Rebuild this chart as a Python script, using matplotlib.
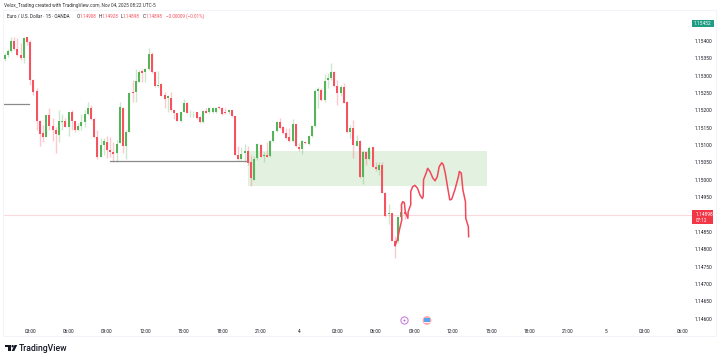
import matplotlib
matplotlib.use("Agg")
import matplotlib.pyplot as plt
from matplotlib.patches import Rectangle, Circle, Polygon
import numpy as np

plt.rcParams['font.family'] = ['Roboto', 'DejaVu Sans']

# OHLC, 15 min bars, the first one is 01:00
opens = [1.15347, 1.15359, 1.15372, 1.15400, 1.15378, 1.15360, 1.15350, 1.15410, 1.15397, 1.15288,
         1.15256, 1.15168, 1.15134, 1.15124, 1.15186, 1.15154, 1.15144, 1.15130, 1.15167, 1.15169,
         1.15153, 1.15195, 1.15169, 1.15142, 1.15154, 1.15165, 1.15190, 1.15206, 1.15175, 1.15122,
         1.15067, 1.15100, 1.15110, 1.15086, 1.15079, 1.15077, 1.15107, 1.15208, 1.15097, 1.15139,
         1.15254, 1.15253, 1.15283, 1.15312, 1.15309, 1.15318, 1.15363, 1.15310, 1.15271, 1.15275,
         1.15244, 1.15235, 1.15235, 1.15200, 1.15192, 1.15170, 1.15196, 1.15221, 1.15195, 1.15194,
         1.15194, 1.15181, 1.15165, 1.15199, 1.15195, 1.15196, 1.15194, 1.15210, 1.15208, 1.15196,
         1.15196, 1.15200, 1.15184, 1.15072, 1.15061, 1.15077, 1.15083, 1.15050, 1.15000, 1.15062,
         1.15100, 1.15069, 1.15072, 1.15069, 1.15112, 1.15141, 1.15165, 1.15152, 1.15136, 1.15122,
         1.15113, 1.15160, 1.15094, 1.15089, 1.15110, 1.15103, 1.15126, 1.15155, 1.15257, 1.15259,
         1.15230, 1.15286, 1.15294, 1.15309, 1.15271, 1.15249, 1.15268, 1.15225, 1.15139, 1.15149,
         1.15098, 1.15113, 1.15009, 1.15081, 1.15059, 1.15093, 1.15038, 1.15028, 1.15043, 1.14963,
         1.14900, 1.14904, 1.14825, 1.14825, 1.14892, 1.14908]
highs = [1.15365, 1.15376, 1.15412, 1.15412, 1.15408, 1.15393, 1.15411, 1.15412, 1.15403, 1.15290,
         1.15264, 1.15172, 1.15158, 1.15187, 1.15206, 1.15177, 1.15153, 1.15201, 1.15190, 1.15177,
         1.15196, 1.15201, 1.15170, 1.15163, 1.15190, 1.15201, 1.15225, 1.15216, 1.15177, 1.15144,
         1.15120, 1.15120, 1.15126, 1.15124, 1.15110, 1.15115, 1.15225, 1.15211, 1.15144, 1.15254,
         1.15288, 1.15319, 1.15316, 1.15319, 1.15322, 1.15379, 1.15367, 1.15312, 1.15312, 1.15278,
         1.15254, 1.15244, 1.15252, 1.15201, 1.15193, 1.15196, 1.15233, 1.15225, 1.15201, 1.15199,
         1.15196, 1.15183, 1.15201, 1.15206, 1.15210, 1.15210, 1.15210, 1.15213, 1.15210, 1.15206,
         1.15204, 1.15202, 1.15185, 1.15096, 1.15095, 1.15103, 1.15096, 1.15072, 1.15069, 1.15105,
         1.15103, 1.15081, 1.15110, 1.15115, 1.15144, 1.15170, 1.15179, 1.15155, 1.15149, 1.15149,
         1.15175, 1.15161, 1.15107, 1.15115, 1.15113, 1.15129, 1.15158, 1.15261, 1.15268, 1.15264,
         1.15305, 1.15308, 1.15336, 1.15312, 1.15286, 1.15273, 1.15278, 1.15227, 1.15158, 1.15172,
         1.15129, 1.15115, 1.15086, 1.15083, 1.15096, 1.15094, 1.15052, 1.15052, 1.15052, 1.14965,
         1.14931, 1.14905, 1.14838, 1.14896, 1.14936, 1.14910]
lows = [1.15343, 1.15355, 1.15369, 1.15374, 1.15357, 1.15345, 1.15336, 1.15388, 1.15273, 1.15244,
        1.15144, 1.15096, 1.15110, 1.15123, 1.15144, 1.15113, 1.15078, 1.15110, 1.15144, 1.15152,
        1.15126, 1.15144, 1.15139, 1.15141, 1.15144, 1.15153, 1.15187, 1.15172, 1.15120, 1.15059,
        1.15065, 1.15072, 1.15062, 1.15067, 1.15052, 1.15052, 1.15105, 1.15077, 1.15060, 1.15137,
        1.15224, 1.15223, 1.15282, 1.15282, 1.15282, 1.15316, 1.15307, 1.15268, 1.15268, 1.15240,
        1.15206, 1.15196, 1.15198, 1.15175, 1.15168, 1.15166, 1.15195, 1.15191, 1.15182, 1.15182,
        1.15175, 1.15163, 1.15163, 1.15191, 1.15193, 1.15192, 1.15192, 1.15204, 1.15187, 1.15189,
        1.15189, 1.15181, 1.15070, 1.15057, 1.15057, 1.15052, 1.15043, 1.14982, 1.14998, 1.15057,
        1.15065, 1.15052, 1.15065, 1.15067, 1.15110, 1.15139, 1.15146, 1.15132, 1.15117, 1.15110,
        1.15110, 1.15094, 1.15083, 1.15075, 1.15103, 1.15101, 1.15124, 1.15153, 1.15207, 1.15228,
        1.15225, 1.15265, 1.15288, 1.15267, 1.15216, 1.15240, 1.15221, 1.15136, 1.15120, 1.15063,
        1.15096, 1.15006, 1.14988, 1.15043, 1.15057, 1.15036, 1.15024, 1.15014, 1.14961, 1.14892,
        1.14873, 1.14823, 1.14774, 1.14817, 1.14890, 1.14887]
closes = [1.15360, 1.15372, 1.15400, 1.15378, 1.15360, 1.15350, 1.15409, 1.15397, 1.15288, 1.15252,
          1.15168, 1.15132, 1.15124, 1.15186, 1.15154, 1.15144, 1.15132, 1.15170, 1.15170, 1.15153,
          1.15194, 1.15169, 1.15144, 1.15155, 1.15166, 1.15190, 1.15207, 1.15175, 1.15122, 1.15067,
          1.15101, 1.15111, 1.15086, 1.15079, 1.15075, 1.15103, 1.15209, 1.15097, 1.15139, 1.15251,
          1.15250, 1.15285, 1.15310, 1.15307, 1.15319, 1.15363, 1.15310, 1.15271, 1.15273, 1.15242,
          1.15233, 1.15242, 1.15200, 1.15192, 1.15170, 1.15196, 1.15221, 1.15193, 1.15196, 1.15196,
          1.15177, 1.15165, 1.15199, 1.15193, 1.15208, 1.15208, 1.15208, 1.15206, 1.15190, 1.15191,
          1.15200, 1.15183, 1.15072, 1.15060, 1.15075, 1.15084, 1.15048, 1.15005, 1.15059, 1.15102,
          1.15067, 1.15072, 1.15067, 1.15112, 1.15141, 1.15166, 1.15149, 1.15136, 1.15120, 1.15113,
          1.15160, 1.15096, 1.15088, 1.15112, 1.15105, 1.15126, 1.15156, 1.15257, 1.15261, 1.15230,
          1.15285, 1.15294, 1.15309, 1.15270, 1.15249, 1.15267, 1.15222, 1.15139, 1.15149, 1.15100,
          1.15112, 1.15009, 1.15081, 1.15059, 1.15091, 1.15038, 1.15032, 1.15043, 1.14963, 1.14896,
          1.14905, 1.14825, 1.14810, 1.14894, 1.14908, 1.14902]

# the hand drawn projection
path_bars = [122.0, 122.7, 123.5, 124.1, 124.0, 124.4, 124.9, 125.2, 126.0, 126.1, 126.9, 126.9, 127.5, 128.2,
             129.0, 129.8, 130.5, 130.8, 130.9, 131.7, 132.2, 132.9, 133.8, 134.5, 135.2, 135.8, 136.6, 137.1,
             137.7, 138.4, 139.1, 139.7, 140.7, 141.8, 142.1, 142.7, 143.2, 144.0, 144.1, 144.9, 145.0]
path_prices = [1.14810, 1.14827, 1.14861, 1.14884, 1.14928, 1.14937, 1.14934, 1.14908, 1.14889, 1.14908,
               1.14928, 1.14966, 1.14980, 1.14984, 1.14976, 1.14956, 1.14946, 1.14952, 1.15000, 1.15019,
               1.15033, 1.15024, 1.15005, 1.14997, 1.15009, 1.15038, 1.15049, 1.15043, 1.15019, 1.14980,
               1.14942, 1.14944, 1.14971, 1.15009, 1.15024, 1.15019, 1.14971, 1.14937, 1.14889, 1.14865,
               1.14836]

zone_bars = [75.9, 150.6]
zone_prices = [1.14983, 1.15083]
level_1_bars = [-0.2, 7.7]
level_1_price = 1.15218
level_2_bars = [32.9, 76.0]
level_2_price = 1.15054
last_price = 1.14898
other_price = 1.15452

price_ticks = [1.15400, 1.15350, 1.15300, 1.15250, 1.15200, 1.15150, 1.15100, 1.15050, 1.15000,
               1.14950, 1.14850, 1.14800, 1.14750, 1.14700, 1.14650, 1.14600]
time_ticks = [8, 20, 32, 44, 56, 68, 80, 92, 104, 116, 128, 140, 152, 164, 176, 188, 200, 212]
time_labels = ['03:00', '06:00', '09:00', '12:00', '15:00', '18:00', '21:00', '4', '03:00', '06:00',
               '09:00', '12:00', '15:00', '18:00', '21:00', '5', '03:00', '06:00']

UP = '#55b35a'
DOWN = '#f7525f'
W, H = 720, 360


def box(x0, y0, x1, y1):
    # pixels from top left to figure fraction
    return [x0 / W, 1 - y1 / H, (x1 - x0) / W, (y1 - y0) / H]


fig = plt.figure(figsize=(7.2, 3.6), dpi=100, facecolor='white')

ax = fig.add_axes(box(3, 10, 692, 336))
ax.set_xlim(-0.52, 214.8)
ax.set_ylim(1.14550, 1.15489)
for s in ax.spines.values():
    s.set_visible(False)

ax.add_patch(Rectangle((zone_bars[0], zone_prices[0]), zone_bars[1] - zone_bars[0],
                       zone_prices[1] - zone_prices[0], fc='#e3f1e0', ec='none', zorder=1))
ax.axhline(last_price, color='#fcd9dd', lw=0.8, zorder=1)

bars = np.arange(len(opens))
o = np.array(opens)
c = np.array(closes)
colors = [UP if a >= b else DOWN for a, b in zip(closes, opens)]
ax.vlines(bars, lows, highs, colors=colors, lw=1.0, alpha=0.3, zorder=2)
ax.bar(bars, np.abs(c - o), bottom=np.minimum(o, c), width=0.62, color=colors, lw=0, zorder=3)

ax.plot(level_1_bars, [level_1_price] * 2, color='#8a8a8a', lw=0.9, zorder=2)
ax.plot(level_2_bars, [level_2_price] * 2, color='#8a8a8a', lw=0.9, zorder=2)
ax.plot(path_bars, path_prices, color='#f2485a', lw=1.1, zorder=4, solid_joinstyle='round')

ax.set_yticks(price_ticks, [f'{p:.5f}' for p in price_ticks])
ax.yaxis.tick_right()
ax.tick_params(axis='y', length=0, pad=1.8, labelsize=3.5, labelcolor='#131722')
ax.set_xticks(time_ticks, time_labels)
ax.tick_params(axis='x', length=0, pad=-5.2, labelsize=3.4, labelcolor='#131722')

# everything around the plot, in pixels
top = fig.add_axes([0, 0, 1, 1], facecolor='none')
top.set_xlim(0, W)
top.set_ylim(H, 0)
top.axis('off')

top.add_patch(Rectangle((3, 10), 713, 326, fc='none', ec='#f0f3fa', lw=0.6))
top.text(4, 5.7, 'Velox_Trading created with TradingView.com, Nov 04, 2025 08:22 UTC-5', fontsize=3.38,
         color='#333333', va='center')
top.text(7, 16.2, 'Euro / U.S. Dollar · 15 · OANDA', fontsize=3.3, color='#222222', va='center')
legend_parts = [(76.5, 'O', '#222222'), (79.5, '1.14908', DOWN), (98.5, 'H', '#222222'), (101.5, '1.14928', DOWN),
                (120.5, 'L', '#222222'), (123, '1.14898', DOWN), (142.5, 'C', '#222222'), (145.7, '1.14898', DOWN),
                (165.5, '−0.00009 (−0.01%)', DOWN)]
for lx, txt, col in legend_parts:
    top.text(lx, 16.2, txt, fontsize=3.3, color=col, va='center')

# price labels
top.add_patch(Rectangle((692, 20), 22, 6.8, fc='#1f9d84', ec='none'))
top.text(703, 23.4, f'{other_price:.5f}', fontsize=3.5, color='white', ha='center', va='center')
top.add_patch(Rectangle((692, 210), 21, 14, fc='#f23645', ec='none'))
top.text(695.5, 214.8, f'{last_price:.5f}', fontsize=3.5, color='white', va='center')
top.text(695.5, 220.6, '07:12', fontsize=3.3, color='white', va='center')

# event markers
top.add_patch(Circle((404.5, 320.5), 3.6, fc='white', ec='#cf7fe0', lw=0.8))
top.add_patch(Circle((404.5, 320.5), 0.9, fc='#9c5fc0', ec='none'))
top.add_patch(Circle((427, 320.5), 4.4, fc='#ffa9ad', ec='none'))
top.add_patch(Rectangle((423.5, 317.5), 6.5, 4.5, fc='#5aa3f0', ec='none'))
top.add_patch(Rectangle((423.5, 322), 7, 1, fc='#ffe9e9', ec='none'))

# logo
logo = '#131722'
top.add_patch(Polygon([(5, 345), (11, 345), (11, 351), (8, 351), (8, 347.4), (5, 347.4)], fc=logo, ec='none'))
top.add_patch(Circle((12.6, 346.2), 1.2, fc=logo, ec='none'))
top.add_patch(Polygon([(14.5, 345), (17.2, 345), (14.3, 351), (11.7, 351)], fc=logo, ec='none'))
top.text(19, 348.2, 'TradingView', fontsize=6.2, color=logo, va='center', fontweight='medium')

fig.savefig('out.png', dpi=100)
